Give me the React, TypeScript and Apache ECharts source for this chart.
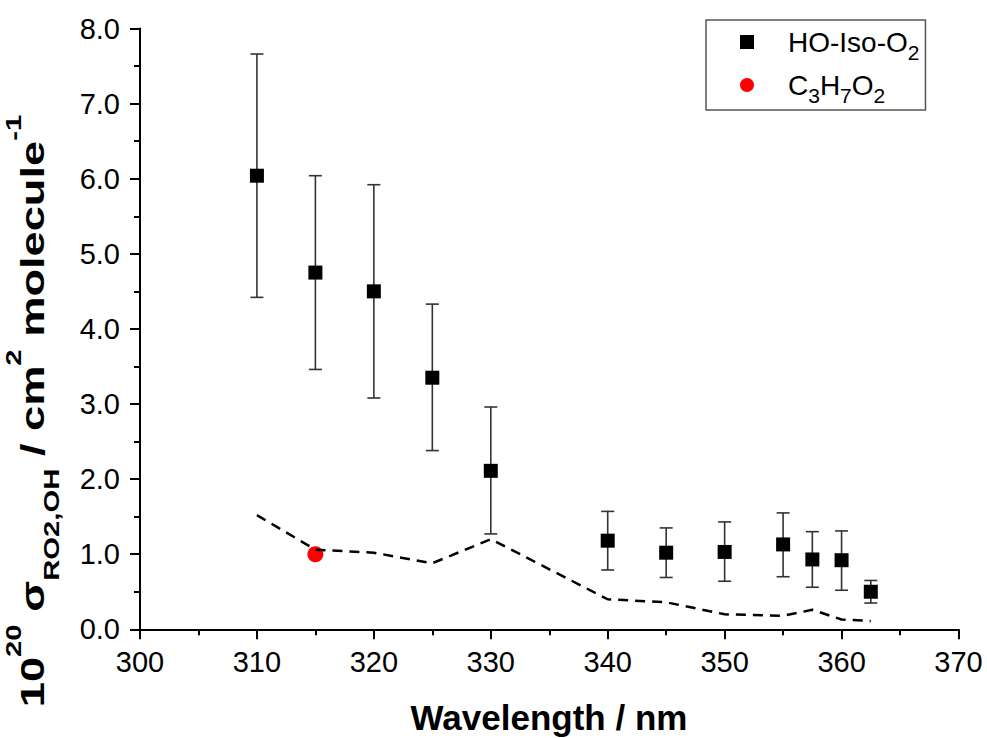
import React, { useEffect, useRef } from "react";
import * as echarts from "echarts";

const WAVELENGTHS = [310, 315, 320, 325, 330, 340, 345, 350, 355, 357.5, 360, 362.5];
const SIGMA = [6.04, 4.75, 4.5, 3.35, 2.11, 1.18, 1.02, 1.03, 1.13, 0.93, 0.92, 0.5];
const ERR_HIGH = [7.66, 6.04, 5.92, 4.33, 2.96, 1.57, 1.35, 1.43, 1.55, 1.3, 1.31, 0.65];
const ERR_LOW = [4.42, 3.46, 3.08, 2.38, 1.27, 0.79, 0.69, 0.64, 0.7, 0.56, 0.52, 0.35];

const REF_WAVELENGTHS = [310, 315, 320, 325, 330, 340, 345, 350, 355, 357.5, 360, 362.5];
const REF_VALUES = [1.52, 1.06, 1.02, 0.88, 1.2, 0.4, 0.36, 0.2, 0.18, 0.26, 0.13, 0.11];

const C3_WAVELENGTHS = [315];
const C3_VALUES = [1.0];

const X_MIN = 300;
const X_MAX = 370;
const X_STEP = 10;
const Y_MIN = 0;
const Y_MAX = 8;
const Y_STEP = 1;

const FONT = "'Liberation Sans', Arial, Helvetica, sans-serif";

export default function App() {
  const ref = useRef<HTMLDivElement>(null);

  useEffect(() => {
    if (!ref.current) return;
    const chart = echarts.init(ref.current, null, { renderer: "svg" });

    const squares = WAVELENGTHS.map((w, i) => [w, SIGMA[i]]);
    const errors = WAVELENGTHS.map((w, i) => [w, SIGMA[i], ERR_LOW[i], ERR_HIGH[i]]);
    const dashed = REF_WAVELENGTHS.map((w, i) => [w, REF_VALUES[i]]);
    const circles = C3_WAVELENGTHS.map((w, i) => [w, C3_VALUES[i]]);

    const legendNames: Record<string, string> = {
      "HO-Iso-O2": "{m|HO-Iso-O}{sub|2}",
      C3H7O2: "{m|C}{sub|3}{m|H}{sub|7}{m|O}{sub|2}",
    };

    const option: any = {
      animation: false,
      backgroundColor: "#ffffff",
      textStyle: { fontFamily: FONT },
      grid: {
        left: 140,
        right: 28.5,
        top: 28.5,
        bottom: 108.7,
        containLabel: false,
        outerBoundsMode: "none",
      },
      legend: {
        orient: "vertical",
        left: 706,
        top: 20,
        padding: [1, 6, 4, 34],
        itemWidth: 14,
        itemHeight: 14,
        itemGap: 1,
        symbolKeepAspect: true,
        borderColor: "#555555",
        borderWidth: 1.5,
        borderRadius: 0,
        backgroundColor: "#ffffff",
        data: ["HO-Iso-O2", "C3H7O2"],
        formatter: (name: string) => legendNames[name] || name,
        textStyle: {
          fontFamily: FONT,
          fontSize: 28,
          color: "#000000",
          lineHeight: 42,
          padding: [0, 0, 0, 29],
          rich: {
            m: {
              fontFamily: FONT,
              fontSize: 28,
              lineHeight: 42,
              verticalAlign: "middle",
              color: "#000000",
            },
            sub: {
              fontFamily: FONT,
              fontSize: 21,
              lineHeight: 21,
              verticalAlign: "bottom",
              color: "#000000",
            },
          },
        },
      },
      xAxis: {
        type: "value",
        min: X_MIN,
        max: X_MAX,
        interval: X_STEP,
        axisLine: { show: true, onZero: false, lineStyle: { color: "#000", width: 2 } },
        axisTick: { show: true, inside: false, length: 10, lineStyle: { color: "#000", width: 2 } },
        minorTick: { show: true, splitNumber: 2, length: 6, lineStyle: { color: "#000", width: 2 } },
        splitLine: { show: false },
        axisLabel: {
          margin: 18,
          fontSize: 29,
          fontFamily: FONT,
          color: "#000",
        },
      },
      yAxis: {
        type: "value",
        min: Y_MIN,
        max: Y_MAX,
        interval: Y_STEP,
        axisLine: { show: true, onZero: false, lineStyle: { color: "#000", width: 2 } },
        axisTick: { show: true, inside: false, length: 10, lineStyle: { color: "#000", width: 2 } },
        minorTick: { show: true, splitNumber: 2, length: 6, lineStyle: { color: "#000", width: 2 } },
        splitLine: { show: false },
        axisLabel: {
          margin: 20,
          fontSize: 29,
          fontFamily: FONT,
          color: "#000",
          formatter: (v: number) => v.toFixed(1),
        },
      },
      graphic: [
        {
          type: "text",
          x: 549,
          y: 717,
          style: {
            text: "Wavelength / nm",
            font: `bold 35px ${FONT}`,
            fill: "#000",
            align: "center",
            verticalAlign: "middle",
          },
        },
        {
          type: "text",
          x: 32,
          y: 411,
          rotation: Math.PI / 2,
          scaleX: 1.33,
          style: {
            text: "{b|10}{sup|20}{b| σ}{sub|RO2,OH}{b| / cm}{sup|2}{b| molecule}{sup|-1}",
            fill: "#000",
            align: "center",
            verticalAlign: "middle",
            rich: {
              b: {
                fontFamily: FONT,
                fontWeight: "bold",
                fontSize: 34,
                lineHeight: 60,
                verticalAlign: "middle",
                fill: "#000",
              },
              sup: {
                fontFamily: FONT,
                fontWeight: "bold",
                fontSize: 22,
                lineHeight: 34,
                verticalAlign: "top",
                fill: "#000",
              },
              sub: {
                fontFamily: FONT,
                fontWeight: "bold",
                fontSize: 22,
                lineHeight: 22,
                verticalAlign: "bottom",
                fill: "#000",
              },
            },
          },
        },
      ],
      series: [
        {
          name: "errorbars",
          type: "custom",
          coordinateSystem: "cartesian2d",
          z: 1,
          silent: true,
          encode: { x: 0, y: 1 },
          data: errors,
          renderItem: (params: any, api: any) => {
            const x = api.value(0);
            const lo = api.value(2);
            const hi = api.value(3);
            const pHi = api.coord([x, hi]);
            const pLo = api.coord([x, lo]);
            const w = 6.5;
            const st = { stroke: "#333333", lineWidth: 1.6 };
            return {
              type: "group",
              children: [
                { type: "line", shape: { x1: pHi[0], y1: pHi[1], x2: pLo[0], y2: pLo[1] }, style: st },
                { type: "line", shape: { x1: pHi[0] - w, y1: pHi[1], x2: pHi[0] + w, y2: pHi[1] }, style: st },
                { type: "line", shape: { x1: pLo[0] - w, y1: pLo[1], x2: pLo[0] + w, y2: pLo[1] }, style: st },
              ],
            };
          },
        },
        {
          name: "HO-Iso-O2",
          type: "scatter",
          symbol: "rect",
          symbolSize: 14,
          symbolKeepAspect: true,
          z: 2,
          itemStyle: { color: "#000000", opacity: 1 },
          data: squares,
        },
        {
          name: "C3H7O2",
          type: "scatter",
          symbol: "circle",
          symbolSize: 16,
          symbolKeepAspect: true,
          z: 2,
          itemStyle: { color: "#ff0000", opacity: 1 },
          data: circles,
        },
        {
          name: "reference",
          type: "line",
          symbol: "none",
          z: 3,
          silent: true,
          lineStyle: { color: "#000000", width: 2.5, type: [10, 7] },
          data: dashed,
        },
      ],
    };

    chart.setOption(option);
    return () => chart.dispose();
  }, []);

  return (
    <div
      ref={ref}
      style={{ position: "fixed", left: 0, top: 0, width: 987, height: 738, background: "#fff" }}
    />
  );
}
